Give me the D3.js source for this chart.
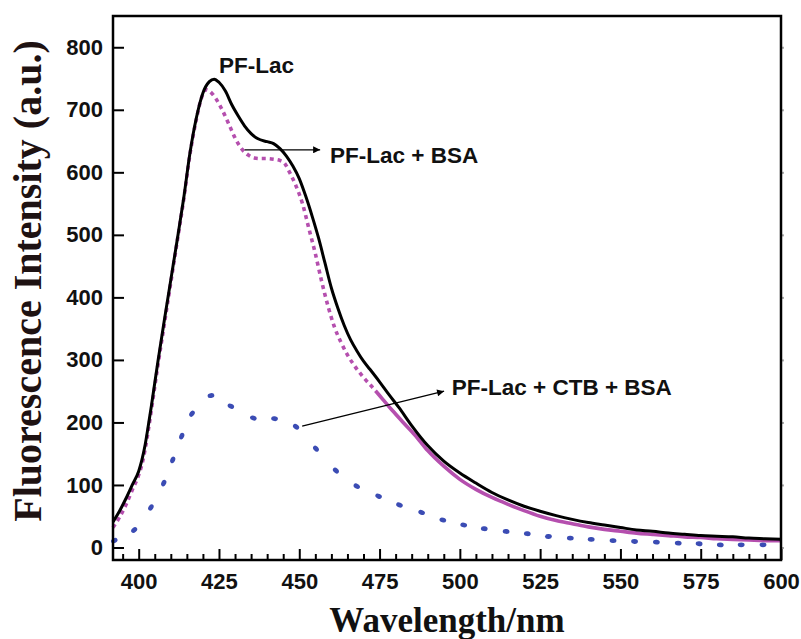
<!DOCTYPE html>
<html>
<head>
<meta charset="utf-8">
<script src="https://cdn.jsdelivr.net/npm/d3@7.9.0/dist/d3.min.js"></script>
<style>
  body { margin: 0; background: #fff; }
  svg { display: block; }
</style>
</head>
<body>
<svg id="chart" width="801" height="639"></svg>
<script>
// PF-Lac (black solid)
const lacData = [
  [392, 41], [394, 58], [396, 78], [398, 100], [400, 122], [401, 140], [402, 164],
  [403, 195], [404, 228], [406, 298], [408, 364], [410, 428], [412, 492], [414, 558],
  [416, 632], [418, 688], [420, 727], [422, 745], [423.5, 749], [425, 744], [427, 730],
  [429, 708], [431, 690], [433, 674], [435, 662], [437, 654], [440, 649], [442, 646],
  [444, 638], [446, 626], [448, 610], [450, 590], [452, 562], [454, 530], [456, 495],
  [458, 455], [460, 415], [462, 383], [464, 355], [466, 332], [468, 314], [470, 298],
  [472, 285], [475, 265], [478, 244], [481, 224], [485, 195], [490, 163], [495, 138],
  [500, 119], [505, 103], [510, 88], [515, 76], [520, 66], [525, 58], [530, 51],
  [535, 45], [540, 40], [545, 36], [550, 32], [555, 28], [560, 26], [565, 23],
  [570, 21], [575, 19], [580, 18], [585, 17], [590, 15], [595, 14], [600, 13]
];

// PF-Lac + BSA (magenta dotted)
const bsaData = [
  [392, 32], [394, 48], [396, 68], [398, 92], [400, 116], [401, 133], [402, 157],
  [403, 188], [404, 222], [406, 292], [408, 358], [410, 424], [412, 490], [414, 556],
  [416, 630], [418, 686], [419.5, 718], [421, 732], [422, 730], [424, 718], [426, 700],
  [428, 678], [430, 655], [432, 638], [434, 628], [436, 623], [438, 622], [440, 622],
  [442, 621], [444, 619], [445.5, 614], [447, 600], [449, 578], [451, 550], [453, 510],
  [455, 470], [457, 425], [459, 385], [461, 352], [463, 328], [465, 308], [467, 292],
  [470, 272], [473, 255], [476, 237], [479, 219], [482, 202], [486, 180], [490, 155],
  [495, 130], [500, 109], [505, 93], [510, 80], [515, 69], [520, 59], [525, 50],
  [530, 43], [535, 38], [540, 33], [545, 29], [550, 26], [555, 23], [560, 21],
  [565, 19], [570, 17], [575, 16], [580, 14], [585, 13], [590, 12], [595, 11], [600, 11]
];

// PF-Lac + CTB + BSA (blue sparse dots)
const ctbData = [
  [392.4, 11], [398.6, 28], [403.8, 64], [407.8, 103], [410.6, 140], [413.4, 178],
  [416.6, 214], [422.5, 243], [428.7, 226], [435.7, 207], [442.3, 206], [449, 193],
  [455.2, 158], [461.4, 123], [467.9, 98], [474.7, 82], [481.2, 68], [488.1, 56],
  [494.7, 44], [501.2, 36], [507.6, 30], [514.4, 25.6], [521, 22], [527.6, 17.6],
  [534.4, 15], [540.9, 13], [547.7, 11], [554.4, 9.6], [561.2, 8.5], [568, 7],
  [574.5, 6], [581.1, 4.3], [587.6, 4.3], [594.4, 4.3]
];

const xTicks = [400, 425, 450, 475, 500, 525, 550, 575, 600];
const xMinorTicks = d3.range(395, 601, 5);
const yTicks = [0, 100, 200, 300, 400, 500, 600, 700, 800];

const labels = [
  { text: 'PF-Lac', at: [425, 759] },
  { text: 'PF-Lac + BSA', at: [459.6, 615] },
  { text: 'PF-Lac + CTB + BSA', at: [497.5, 244] }
];
const arrows = [
  { from: [433, 636], to: [456.5, 636] },
  { from: [450.9, 194], to: [495.1, 250] }
];

// the dotted magenta line looks solid once the noisy tail starts
const bsaSolidFrom = 474;

const svg = d3.select('#chart');
const plotLeft = 113, plotRight = 781, plotTop = 16, plotBottom = 560;

const x = d3.scaleLinear().domain([392, 600]).range([plotLeft, plotRight]);
const y = d3.scaleLinear().domain([-20, 850]).range([plotBottom, plotTop]);

const sansFont = '"Liberation Sans", Arial, sans-serif';
const serifFont = '"Liberation Serif", "Times New Roman", serif';

svg.append('rect')
  .attr('width', 801).attr('height', 639).attr('fill', '#fff');

svg.append('defs').append('marker')
  .attr('id', 'arrowhead')
  .attr('viewBox', '0 0 10 10')
  .attr('refX', 10).attr('refY', 5)
  .attr('markerWidth', 9).attr('markerHeight', 7)
  .attr('markerUnits', 'userSpaceOnUse')
  .attr('orient', 'auto')
  .append('path')
  .attr('d', 'M0,0 L10,5 L0,10 Z')
  .attr('fill', '#000');

// axes
const xAxis = svg.append('g')
  .attr('transform', `translate(0,${plotBottom})`)
  .call(d3.axisBottom(x).tickValues(xTicks).tickSizeInner(-11).tickSizeOuter(0).tickPadding(13));

svg.append('g')
  .attr('transform', `translate(0,${plotBottom})`)
  .call(d3.axisBottom(x).tickValues(xMinorTicks.filter(d => d % 25 !== 0))
    .tickSizeInner(-6).tickSizeOuter(0).tickFormat(''));

const yAxis = svg.append('g')
  .attr('transform', `translate(${plotLeft},0)`)
  .call(d3.axisLeft(y).tickValues(yTicks).tickSizeInner(-11).tickSizeOuter(0).tickPadding(10));

svg.append('g')
  .attr('transform', `translate(${plotRight},0)`)
  .call(d3.axisRight(y).tickValues(yTicks).tickSizeInner(3).tickSizeOuter(0).tickFormat(''))
  .selectAll('line').attr('stroke', '#aaa');

svg.selectAll('.domain').remove();
svg.selectAll('.tick line').attr('stroke-width', 2);

[xAxis, yAxis].forEach(g => g.selectAll('text')
  .attr('font-family', sansFont)
  .attr('font-weight', 'bold')
  .attr('font-size', 22)
  .attr('fill', '#111'));

// curves
const line = d3.line().x(d => x(d[0])).y(d => y(d[1])).curve(d3.curveMonotoneX);

const bsaPath = svg.append('path')
  .datum(bsaData)
  .attr('d', line)
  .attr('fill', 'none')
  .attr('stroke', '#b54fae')
  .attr('stroke-width', 3.6);

const probe = svg.append('path')
  .attr('d', line(bsaData.filter(d => d[0] <= bsaSolidFrom)));
const dottedLength = probe.node().getTotalLength();
probe.remove();
const dashCount = Math.round(dottedLength / 8);
bsaPath.attr('stroke-dasharray', d3.range(dashCount).map(() => '4 4').join(' ') + ' 5000 0');

svg.append('path')
  .datum(lacData)
  .attr('d', line)
  .attr('fill', 'none')
  .attr('stroke', '#000')
  .attr('stroke-width', 3);

svg.selectAll('.ctb-dot')
  .data(ctbData)
  .enter()
  .append('ellipse')
  .attr('class', 'ctb-dot')
  .attr('rx', 3.4).attr('ry', 2.4)
  .attr('fill', '#3b4cb4')
  .attr('transform', (d, i) => {
    const a = ctbData[Math.max(i - 1, 0)];
    const b = ctbData[Math.min(i + 1, ctbData.length - 1)];
    const angle = Math.atan2(y(b[1]) - y(a[1]), x(b[0]) - x(a[0])) * 180 / Math.PI;
    return `translate(${x(d[0])},${y(d[1])}) rotate(${angle})`;
  });

// frame
svg.append('rect')
  .attr('x', plotLeft).attr('y', plotTop)
  .attr('width', plotRight - plotLeft).attr('height', plotBottom - plotTop)
  .attr('fill', 'none')
  .attr('stroke', '#000')
  .attr('stroke-width', 2.5);

// annotations
svg.selectAll('.arrow')
  .data(arrows)
  .enter()
  .append('line')
  .attr('x1', d => x(d.from[0])).attr('y1', d => y(d.from[1]))
  .attr('x2', d => x(d.to[0])).attr('y2', d => y(d.to[1]))
  .attr('stroke', '#000')
  .attr('stroke-width', 1.3)
  .attr('marker-end', 'url(#arrowhead)');

svg.selectAll('.note')
  .data(labels)
  .enter()
  .append('text')
  .attr('x', d => x(d.at[0]))
  .attr('y', d => y(d.at[1]))
  .attr('font-family', sansFont)
  .attr('font-weight', 'bold')
  .attr('font-size', 22.5)
  .attr('fill', '#111')
  .text(d => d.text);

// axis titles
svg.append('text')
  .attr('transform', `translate(41,281) rotate(-90)`)
  .attr('text-anchor', 'middle')
  .attr('font-family', serifFont)
  .attr('font-weight', 'bold')
  .attr('font-size', 40)
  .attr('fill', '#1e1212')
  .text('Fluorescence Intensity (a.u.)');

svg.append('text')
  .attr('x', (plotLeft + plotRight) / 2)
  .attr('y', 632)
  .attr('text-anchor', 'middle')
  .attr('font-family', serifFont)
  .attr('font-weight', 'bold')
  .attr('font-size', 35)
  .attr('fill', '#111')
  .text('Wavelength/nm');
</script>
</body>
</html>
